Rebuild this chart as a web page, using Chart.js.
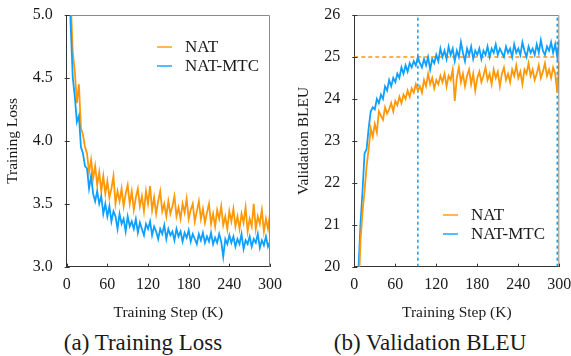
<!DOCTYPE html>
<html>
<head>
<meta charset="utf-8">
<script src="https://cdn.jsdelivr.net/npm/chart.js@4.4.1/dist/chart.umd.min.js"></script>
<style>
  body { margin: 0; background: #fff; width: 571px; height: 356px; position: relative; overflow: hidden; }
  .box { position: absolute; top: 0; height: 325px; }
  #boxA { left: 0; width: 285px; }
  #boxB { left: 285px; width: 286px; }
  .caption { position: absolute; top: 331px; font-family: "Liberation Serif", serif; font-size: 23px; line-height: 1; color: #1a1a1a; transform: translateX(-50%); white-space: nowrap; }
</style>
</head>
<body>
<div class="box" id="boxA"><canvas id="lossChart"></canvas></div>
<div class="box" id="boxB"><canvas id="bleuChart"></canvas></div>
<div class="caption" style="left:143px">(a) Training Loss</div>
<div class="caption" style="left:430px">(b) Validation BLEU</div>
<script>
// training steps (K)
const steps = [3, 6, 9, 12, 15, 18, 21, 24, 27, 30, 33, 36, 39, 42, 45, 48, 51, 54, 57, 60,
  63, 66, 69, 72, 75, 78, 81, 84, 87, 90, 93, 96, 99, 102, 105, 108, 111, 114, 117, 120,
  123, 126, 129, 132, 135, 138, 141, 144, 147, 150, 153, 156, 159, 162, 165, 168, 171, 174, 177, 180,
  183, 186, 189, 192, 195, 198, 201, 204, 207, 210, 213, 216, 219, 222, 225, 228, 231, 234, 237, 240,
  243, 246, 249, 252, 255, 258, 261, 264, 267, 270, 273, 276, 279, 282, 285, 288, 291, 294, 297, 300];

const lossNAT = [5.6, 5.1, 4.7, 4.55, 4.3, 4.45, 4.1, 4.05, 3.95, 3.9, 3.75, 3.85, 3.7, 3.8, 3.65, 3.75, 3.6, 3.72, 3.58, 3.68,
  3.55, 3.62, 3.72, 3.5, 3.6, 3.52, 3.62, 3.48, 3.58, 3.65, 3.5, 3.6, 3.45, 3.55, 3.62, 3.48, 3.56, 3.44, 3.6, 3.5,
  3.64, 3.45, 3.55, 3.42, 3.52, 3.6, 3.44, 3.5, 3.4, 3.52, 3.42, 3.48, 3.56, 3.4, 3.47, 3.38, 3.5, 3.43, 3.54, 3.38,
  3.45, 3.5, 3.36, 3.44, 3.52, 3.38, 3.46, 3.35, 3.43, 3.5, 3.34, 3.42, 3.32, 3.45, 3.38, 3.48, 3.33, 3.4, 3.3, 3.44,
  3.36, 3.46, 3.32, 3.4, 3.3, 3.42, 3.35, 3.47, 3.28, 3.38, 3.32, 3.5, 3.3, 3.4, 3.34, 3.45, 3.28, 3.38, 3.3, 3.42];

const lossMTC = [5.4, 4.9, 4.5, 4.35, 4.15, 4.2, 3.95, 3.9, 3.8, 3.78, 3.62, 3.72, 3.58, 3.52, 3.6, 3.5, 3.56, 3.42, 3.5, 3.4,
  3.48, 3.36, 3.44, 3.4, 3.3, 3.42, 3.34, 3.38, 3.28, 3.4, 3.32, 3.36, 3.3, 3.38, 3.27, 3.35, 3.3, 3.25, 3.34, 3.3,
  3.36, 3.25, 3.32, 3.28, 3.22, 3.3, 3.26, 3.33, 3.22, 3.3, 3.25, 3.28, 3.21, 3.3, 3.24, 3.28, 3.2, 3.27, 3.23, 3.29,
  3.2, 3.26, 3.22, 3.18, 3.26, 3.21, 3.27, 3.19, 3.24, 3.2, 3.27, 3.18, 3.23, 3.19, 3.26, 3.2, 3.08, 3.22, 3.18, 3.25,
  3.19, 3.24, 3.16, 3.22, 3.18, 3.26, 3.14, 3.21, 3.18, 3.24, 3.16, 3.22, 3.19, 3.26, 3.15, 3.21, 3.17, 3.24, 3.16, 3.2];

const bleuNAT = [18.5, 19.2, 20.6, 21.3, 21.8, 22.4, 22.8, 23.3, 23.1, 23.4, 23.2, 23.7, 23.6, 23.5, 23.8, 23.65, 23.75, 23.9, 23.7, 23.95,
  23.85, 24.05, 23.9, 24.1, 24.0, 24.2, 24.05, 24.25, 24.15, 24.35, 24.2, 24.3, 24.15, 24.45, 24.3, 24.6, 24.35, 24.5, 24.25, 24.45,
  24.35, 24.55, 24.4, 24.6, 24.3, 24.55, 24.45, 24.7, 23.95, 24.5, 24.75, 24.4, 24.6, 24.3, 24.55, 24.7, 24.35, 24.6, 24.2, 24.5,
  24.65, 24.4, 24.55, 24.75, 24.45, 24.6, 24.35, 24.7, 24.5, 24.65, 24.3, 24.6, 24.75, 24.45, 24.6, 24.4, 24.7, 24.55, 24.8, 24.5,
  24.65, 24.35, 24.7, 24.6, 24.85, 24.55, 24.7, 24.45, 24.6, 24.8, 24.5, 24.65, 24.85, 24.55, 24.7, 24.5, 24.75, 24.6, 24.15, 24.9];

const bleuMTC = [19.0, 19.9, 21.0, 21.8, 22.7, 22.8, 23.3, 23.7, 23.8, 23.75, 24.0, 23.9, 24.1, 24.0, 24.3, 24.2, 24.45, 24.3, 24.5, 24.4,
  24.6, 24.5, 24.75, 24.6, 24.8, 24.65, 24.85, 24.75, 24.9, 24.8, 25.0, 24.85, 24.75, 24.95, 24.8, 25.0, 24.7, 24.95, 24.85, 25.05,
  24.9, 25.2, 25.0, 25.15, 24.95, 25.25, 25.05, 25.2, 24.9, 25.15, 25.0, 25.35, 25.1, 24.9, 25.2, 25.05, 25.25, 24.95, 25.15, 25.05,
  25.2, 24.95, 25.15, 25.05, 25.25, 25.0, 25.2, 25.1, 25.3, 25.05, 25.2, 25.1, 25.0, 25.25, 25.1, 25.2, 25.0, 25.3, 25.1, 25.2,
  25.05, 25.35, 25.15, 25.0, 25.25, 25.1, 25.2, 25.05, 25.3, 25.1, 25.4, 25.15, 25.05, 25.25, 25.15, 25.35, 25.1, 25.3, 25.0, 25.4];

// reference lines in the BLEU plot
const bestNATLine = [{ x: 0, y: 25 }, { x: 297, y: 25 }];
const mtcReachStep = [{ x: 93, y: 20 }, { x: 93, y: 26 }];
const mtcEndStep = [{ x: 297, y: 20 }, { x: 297, y: 26 }];

const xTicks = [0, 60, 120, 180, 240, 300];
const seriesNames = ["NAT", "NAT-MTC"];

const ORANGE = "#ff9808";
const BLUE = "#0ea0ff";
const SERIF = "'Liberation Serif', 'Times New Roman', serif";
const TEXT = "#1a1a1a";

function toPoints(ys) {
    return ys.map((y, i) => ({ x: steps[i], y: y }));
}

function lineSet(label, ys, color) {
    return {
        label: label,
        data: toPoints(ys),
        borderColor: color,
        borderWidth: 1.8,
        pointRadius: 0,
        tension: 0,
        fill: false,
    };
}

// frame around the plot, inward ticks, hand placed legend
function boxLegend(legendX, legendY, gap) {
    return {
        id: "boxLegend",
        afterDraw(chart) {
            const ctx = chart.ctx;
            const a = chart.chartArea;
            ctx.save();
            ctx.strokeStyle = "#8a8a8a";
            ctx.lineWidth = 1;
            ctx.beginPath();
            ctx.moveTo(a.left, a.top + 0.5);
            ctx.lineTo(a.right - 0.5, a.top + 0.5);
            ctx.lineTo(a.right - 0.5, a.bottom);
            ctx.stroke();

            ctx.strokeStyle = "#333";
            ctx.beginPath();
            chart.scales.x.ticks.forEach(t => {
                const px = Math.round(chart.scales.x.getPixelForValue(t.value)) + 0.5;
                ctx.moveTo(px, a.bottom);
                ctx.lineTo(px, a.bottom - 3);
            });
            chart.scales.y.ticks.forEach(t => {
                const py = Math.round(chart.scales.y.getPixelForValue(t.value)) + 0.5;
                ctx.moveTo(a.left - 2, py);
                ctx.lineTo(a.left + 3, py);
            });
            ctx.stroke();

            const colors = [ORANGE, BLUE];
            ctx.font = "17px " + SERIF;
            ctx.textBaseline = "middle";
            seriesNames.forEach((name, i) => {
                const y = legendY + i * gap;
                ctx.strokeStyle = colors[i];
                ctx.globalAlpha = 0.7;
                ctx.lineWidth = 2;
                ctx.beginPath();
                ctx.moveTo(legendX, y);
                ctx.lineTo(legendX + 15, y);
                ctx.stroke();
                ctx.globalAlpha = 1;
                ctx.fillStyle = TEXT;
                ctx.fillText(name, legendX + 28, y + 1);
            });
            ctx.restore();
        }
    };
}

function baseOptions(yMin, yMax, yStep, yTitle, yDigits, yWidth, xHeight, titlePad, padRight) {
    return {
        responsive: true,
        maintainAspectRatio: false,
        animation: false,
        layout: { padding: { top: 15, right: padRight, left: 0, bottom: 0 } },
        plugins: { legend: { display: false }, tooltip: { enabled: false } },
        scales: {
            x: {
                type: "linear",
                min: 0,
                max: 300,
                afterBuildTicks: scale => { scale.ticks = xTicks.map(v => ({ value: v })); },
                afterFit: scale => {
                    scale.height = xHeight;
                    scale.paddingLeft = 0;
                    scale.paddingRight = 0;
                },
                grid: { drawOnChartArea: false, drawTicks: false },
                border: { color: "#333", width: 1 },
                ticks: { font: { family: SERIF, size: 16 }, color: TEXT, padding: 8, maxRotation: 0 },
                title: { display: true, text: "Training Step (K)", font: { family: SERIF, size: 15.5 }, color: TEXT, padding: { top: 0, bottom: 3 } },
            },
            y: {
                min: yMin,
                max: yMax,
                afterFit: scale => {
                    scale.width = yWidth;
                    scale.paddingTop = 0;
                    scale.paddingBottom = 0;
                },
                grid: { drawOnChartArea: false, drawTicks: false },
                border: { color: "#333", width: 1 },
                ticks: {
                    stepSize: yStep,
                    font: { family: SERIF, size: 16 },
                    color: TEXT,
                    padding: 14,
                    callback: v => v.toFixed(yDigits),
                },
                title: { display: true, text: yTitle, font: { family: SERIF, size: 15.5 }, color: TEXT, padding: { top: titlePad, bottom: 0 } },
            },
        },
    };
}

const refLine = (data, color, dash) => ({
    data: data,
    borderColor: color,
    borderWidth: 1.5,
    borderDash: dash,
    pointRadius: 0,
    fill: false,
});

function drawCharts() {
    Chart.defaults.font.family = SERIF;

    new Chart(document.getElementById("lossChart").getContext("2d"), {
        type: "line",
        data: {
            datasets: [
                lineSet("NAT-MTC", lossMTC, BLUE),
                lineSet("NAT", lossNAT, ORANGE),
            ]
        },
        options: baseOptions(3.0, 5.0, 0.5, "Training Loss", 1, 66.7, 58.3, 3.7, 15),
        plugins: [boxLegend(157, 47, 19)],
    });

    new Chart(document.getElementById("bleuChart").getContext("2d"), {
        type: "line",
        data: {
            datasets: [
                lineSet("NAT", bleuNAT, ORANGE),
                lineSet("NAT-MTC", bleuMTC, BLUE),
                refLine(bestNATLine, ORANGE, [4, 3]),
                refLine(mtcReachStep, BLUE, [3, 3]),
                refLine(mtcEndStep, BLUE, [3, 3]),
            ]
        },
        options: baseOptions(20, 26, 1, "Validation BLEU", 0, 69.3, 58.3, 9.7, 11.7),
        plugins: [boxLegend(158, 215, 19)],
    });
}

// make sure the serif face is ready before the canvases draw text
Promise.all([
    document.fonts.load("16px 'Liberation Serif'"),
    document.fonts.load("17px 'Liberation Serif'"),
]).then(drawCharts, drawCharts);
</script>
</body>
</html>
